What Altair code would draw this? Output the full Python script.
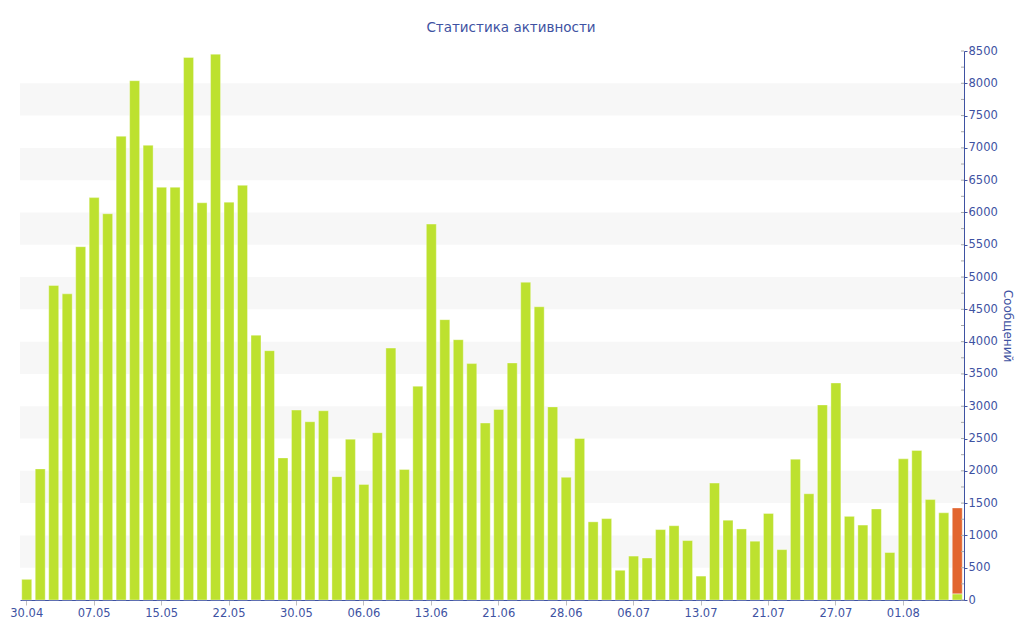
import json
import altair as alt
import pandas as pd

# ---- data ----
tick_labels = ["30.04", "07.05", "15.05", "22.05", "30.05", "06.06", "13.06",
               "21.06", "28.06", "06.07", "13.07", "21.07", "27.07", "01.08"]

messages = [320, 2030, 4870, 4740, 5470, 6230, 5980, 7180, 8040, 7040,
            6390, 6390, 8400, 6150, 8450, 6160, 6420, 4100, 3860, 2200,
            2940, 2760, 2930, 1910, 2490, 1790, 2590, 3900, 2020, 3310,
            5820, 4340, 4030, 3660, 2740, 2950, 3670, 4920, 4540, 2990,
            1900, 2500, 1210, 1260, 460, 680, 650, 1090, 1150, 920,
            370, 1810, 1235, 1100, 910, 1340, 780, 2180, 1645, 3020,
            3360, 1295, 1160, 1410, 735, 2185, 2315, 1555, 1350, 95]

today_extra = 1330          # orange part on top of the last bar
band_starts = [500, 1500, 2500, 3500, 4500, 5500, 6500, 7500]
band_size = 500

BLUE = "#3e52a2"
GREEN = "#bde12f"
ORANGE = "#e2652f"
W, H = 944, 549
FONT = "DejaVu Sans"

rows = [{"i": i, "v": v, "s": "main", "o": 0} for i, v in enumerate(messages)]
rows.append({"i": len(messages) - 1, "v": today_extra, "s": "today", "o": 1})
df = pd.DataFrame(rows)

bands = pd.DataFrame({"v": band_starts, "hi": [b + band_size for b in band_starts]})
minor = pd.DataFrame({"v": list(range(0, 8501, 250))})

yscale = alt.Scale(domain=[0, 8500], nice=False, zero=True)
yaxis = alt.Axis(orient="right", values=list(range(0, 8501, 500)), format="d",
                 title="Сообщений", titleColor=BLUE, titleFont=FONT,
                 titleFontSize=12, titleFontWeight="normal",
                 titlePadding=3, domainColor=BLUE, tickColor=BLUE,
                 tickSize=3, labelColor=BLUE, labelFont=FONT,
                 labelFontSize=11.5, labelPadding=1, grid=False)

band_layer = alt.Chart(bands).mark_rect(color="#f7f7f7").encode(
    y=alt.Y("v:Q", scale=yscale, axis=yaxis),
    y2="hi:Q",
    x=alt.value(0),
    x2=alt.value(W),
)

label_expr = json.dumps(tick_labels) + "[round(datum.value / 5)]"

bars = alt.Chart(df).mark_bar(stroke="white", strokeWidth=0.6, strokeOpacity=0.6).encode(
    x=alt.X("i:O",
            scale=alt.Scale(paddingInner=0.26, paddingOuter=0.13),
            axis=alt.Axis(values=list(range(0, 70, 5)), labelExpr=label_expr,
                          labelAngle=0, title=None, domainColor=BLUE,
                          tickColor="#c0c0c0", tickSize=5, labelColor=BLUE,
                          labelFont=FONT, labelFontSize=11.5, labelPadding=2,
                          grid=False)),
    y=alt.Y("v:Q", stack="zero", scale=yscale, axis=yaxis),
    color=alt.Color("s:N", scale=alt.Scale(domain=["main", "today"], range=[GREEN, ORANGE]),
                    legend=None),
    order=alt.Order("o:Q"),
)

minor_ticks = alt.Chart(minor).mark_rule(color="#a8a8a8", strokeWidth=1).encode(
    y=alt.Y("v:Q", scale=yscale, axis=yaxis),
    x=alt.value(W - 3),
    x2=alt.value(W),
)

chart = alt.layer(band_layer, bars, minor_ticks).properties(
    width=W, height=H,
    background="white",
    title=alt.TitleParams("Статистика активности", font=FONT, fontSize=13.5,
                          fontWeight="normal", color=BLUE, anchor="middle",
                          dx=19, offset=11),
    padding={"left": 12, "top": 43, "right": 52, "bottom": 30},
    autosize=alt.AutoSizeParams(type="none"),
).configure_view(strokeWidth=0, stroke="transparent")

chart.save("out.html", embed_options={"renderer": "svg", "actions": False})
